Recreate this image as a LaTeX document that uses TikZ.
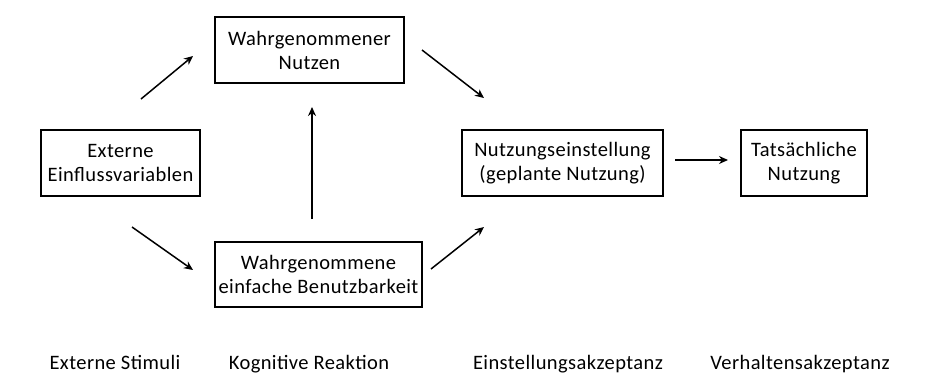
\documentclass[tikz,border=0pt]{standalone}
\usepackage{fontspec}
\setmainfont[LetterSpace=2]{Carlito}
\usetikzlibrary{arrows.meta}
\begin{document}
\begin{tikzpicture}[x=1pt,y=-1pt,
 box/.style={draw, line width=1.5pt, inner sep=0pt, align=center, font=\fontsize{20.5}{24}\selectfont},
 arr/.style={line width=1.5pt, -{Stealth[length=9pt,width=8pt]}},
 lab/.style={font=\fontsize{20.5}{24}\selectfont, inner sep=0pt, anchor=base}]
\useasboundingbox (0,0) rectangle (951,378);
\node[box, minimum width=159pt, minimum height=66pt] (ext) at (120.5,163) {Externe\\Einflussvariablen};
\node[box, minimum width=189pt, minimum height=66pt] (wn) at (309.5,50) {Wahrgenommener\\Nutzen};
\node[box, minimum width=207pt, minimum height=65pt] (web) at (318.5,274.5) {Wahrgenommene\\einfache Benutzbarkeit};
\node[box, minimum width=201pt, minimum height=66pt] (ne) at (562.5,163) {Nutzungseinstellung\\(geplante Nutzung)};
\node[box, minimum width=126pt, minimum height=66pt] (tn) at (804,163) {Tatsächliche\\Nutzung};
\coordinate (a1s) at (141,99);  \coordinate (a1e) at (193,56);
\coordinate (a2s) at (422,50);  \coordinate (a2e) at (484,98);
\coordinate (a3s) at (312,219); \coordinate (a3e) at (312,107);
\coordinate (a4s) at (132,227); \coordinate (a4e) at (193,270);
\coordinate (a5s) at (431,269); \coordinate (a5e) at (484,227);
\coordinate (a6s) at (675,160); \coordinate (a6e) at (728,160);
\draw[arr] (a1s) -- (a1e);
\draw[arr] (a2s) -- (a2e);
\draw[arr] (a3s) -- (a3e);
\draw[arr] (a4s) -- (a4e);
\draw[arr] (a5s) -- (a5e);
\draw[arr] (a6s) -- (a6e);
\node[lab] (l1) at (115,369) {Externe Stimuli};
\node[lab] (l2) at (309,369) {Kognitive Reaktion};
\node[lab] (l3) at (568,369) {Einstellungsakzeptanz};
\node[lab] (l4) at (800,369) {Verhaltensakzeptanz};
\end{tikzpicture}
\end{document}
